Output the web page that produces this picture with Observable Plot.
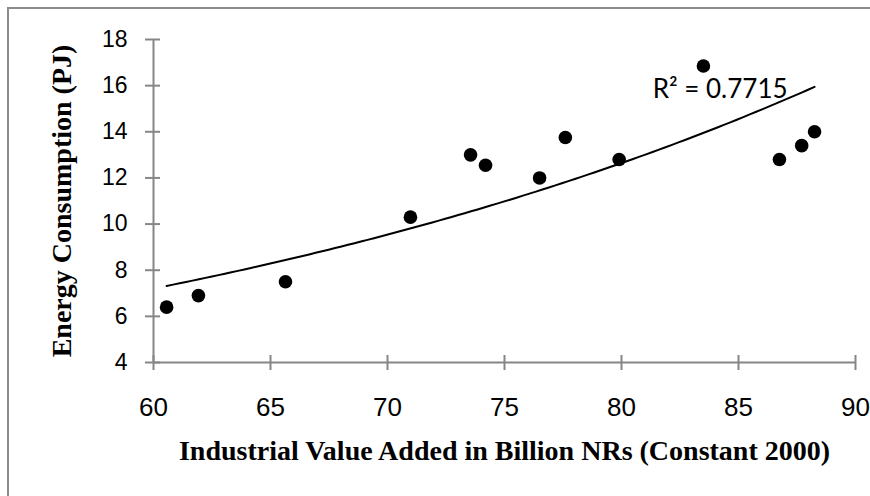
<!DOCTYPE html>
<html>
<head>
<meta charset="utf-8">
<script src="https://cdn.jsdelivr.net/npm/d3@7"></script>
<script src="https://cdn.jsdelivr.net/npm/@observablehq/plot@0.6"></script>
<style>
  html, body { margin: 0; padding: 0; background: #fff; }
  #wrap { position: relative; width: 870px; height: 496px; overflow: hidden; }
  #frame { position: absolute; left: 7px; top: 7px; width: 900px; height: 600px;
           border-left: 2px solid #8c8c8c; border-top: 2px solid #8c8c8c; pointer-events: none; }
</style>
</head>
<body>
<div id="wrap"><div id="frame"></div></div>
<script>
// Industrial value added (billion NRs, constant 2000)
const industrialValue = [60.56, 61.92, 65.64, 70.98, 73.55, 74.19, 76.5, 77.6, 79.9, 83.5, 86.75, 87.7, 88.25];
// Energy consumption (PJ)
const energyPJ = [6.4, 6.9, 7.5, 10.3, 13.0, 12.55, 12.0, 13.75, 12.8, 16.85, 12.8, 13.4, 14.0];
const xTicks = [60, 65, 70, 75, 80, 85, 90];
const yTicks = [4, 6, 8, 10, 12, 14, 16, 18];
const r2Label = "R² = 0.7715";
const xTitle = "Industrial Value Added in Billion NRs (Constant 2000)";
const yTitle = "Energy Consumption (PJ)";

const points = industrialValue.map((x, i) => ({x, y: energyPJ[i]}));

// Exponential trendline (least squares on ln y), as in a spreadsheet trendline
const mx = d3.mean(points, d => d.x);
const my = d3.mean(points, d => Math.log(d.y));
const b = d3.sum(points, d => (d.x - mx) * (Math.log(d.y) - my)) / d3.sum(points, d => (d.x - mx) ** 2);
const a = my - b * mx;
const [x0, x1] = d3.extent(industrialValue);
const fit = d3.range(0, 101).map(i => {
  const x = x0 + (x1 - x0) * i / 100;
  return {x, y: Math.exp(a + b * x)};
});

const axisGray = "#868686";
const sans = "'Liberation Sans', Arial, sans-serif";
const serif = "'Liberation Serif', 'Times New Roman', serif";

const chart = Plot.plot({
  width: 870,
  height: 496,
  marginLeft: 153,
  marginRight: 15,
  marginTop: 39,
  marginBottom: 134,
  style: {background: "transparent", overflow: "visible"},
  x: {domain: [60, 90], label: null},
  y: {domain: [4, 18], label: null},
  marks: [
    Plot.ruleY([4], {stroke: axisGray, strokeWidth: 2}),
    Plot.ruleX([60], {stroke: axisGray, strokeWidth: 2}),
    Plot.axisX({ticks: xTicks, tickSize: 15, dy: -7, text: null, stroke: axisGray, strokeWidth: 2}),
    Plot.axisY({ticks: yTicks, tickSize: 15, dx: 7, text: null, stroke: axisGray, strokeWidth: 2}),
    Plot.axisX({ticks: xTicks, tickSize: 0, tickPadding: 35, fontSize: 26, fontFamily: sans, fill: "#000", label: null}),
    Plot.axisY({ticks: yTicks, tickSize: 0, tickPadding: 26, fontSize: 23, fontFamily: sans, fill: "#000", label: null}),
    Plot.line(fit, {x: "x", y: "y", stroke: "#000", strokeWidth: 2}),
    Plot.dot(points, {x: "x", y: "y", r: 6.8, fill: "#000", stroke: "none"}),
    Plot.text([fit[fit.length - 1]], {x: "x", y: "y", text: () => r2Label, textAnchor: "end", lineAnchor: "bottom",
      dx: -27, dy: 11, fontSize: 26, fontFamily: "Lato, 'Open Sans', sans-serif", fill: "#000"}),
    Plot.text([xTitle], {frameAnchor: "bottom", text: d => d, dy: 97, fontSize: 28, fontWeight: "bold",
      fontFamily: serif, fill: "#000"}),
    Plot.text([yTitle], {frameAnchor: "left", text: d => d, textAnchor: "middle", dx: -91, rotate: -90, fontSize: 28,
      fontWeight: "bold", fontFamily: serif, fill: "#000"})
  ]
});
document.getElementById("wrap").prepend(chart);
</script>
</body>
</html>
